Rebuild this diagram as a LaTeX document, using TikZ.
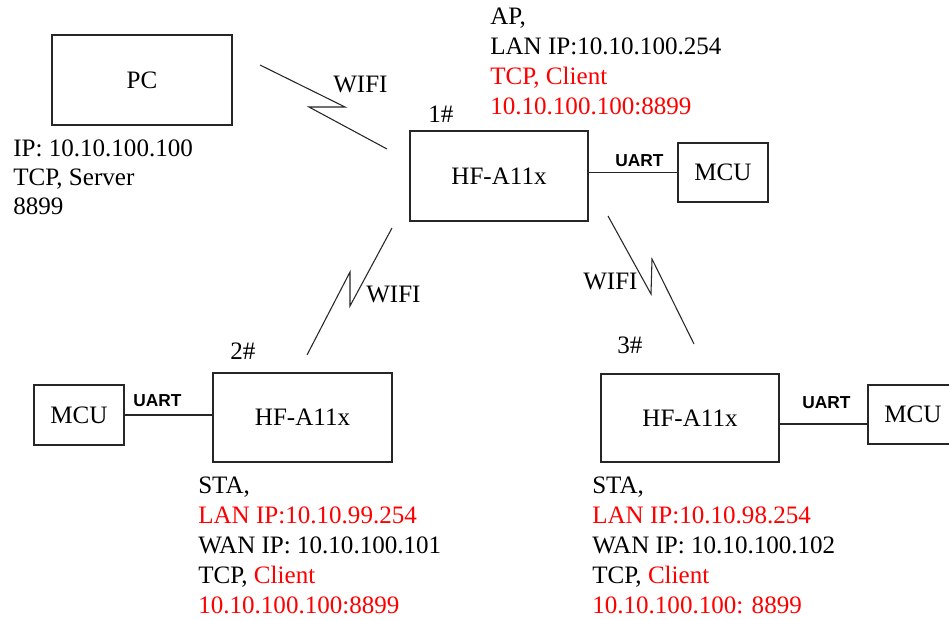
\documentclass[tikz,border=0pt]{standalone}
\usepackage{fontspec}
\setmainfont{Liberation Serif}
\newfontfamily\timesfont{Liberation Serif}
\newfontfamily\uartfont{Liberation Sans}
\begin{document}
\begin{tikzpicture}[x=0.75pt,y=-0.75pt,
  box/.style={draw=black!85, line width=0.9pt, inner sep=0pt, font=\timesfont\fontsize{18.8}{22}\selectfont},
  lbl/.style={anchor=base west, inner sep=0pt, font=\timesfont\fontsize{18.8}{22}\selectfont},
  uart/.style={anchor=base west, inner sep=0pt, font=\uartfont\bfseries\fontsize{13}{15}\selectfont},
  wire/.style={draw=black!85, line width=0.8pt},
  zig/.style={draw=black!85, line width=0.8pt}]
\path[use as bounding box, clip] (0,0) rectangle (949,620);
\fill[white] (0,0) rectangle (949,620);

% boxes
\node[box, minimum width=135pt, minimum height=67.5pt] (pc) at (142,80) {PC};
\node[box, minimum width=133.5pt, minimum height=67.5pt] (ap) at (499,176) {HF-A11x};
\node[box, minimum width=67.5pt, minimum height=44.25pt] (mcua) at (723,172.5) {MCU};
\node[box, minimum width=134.25pt, minimum height=66.75pt] (sta2) at (302.5,417.5) {HF-A11x};
\node[box, minimum width=67.5pt, minimum height=45pt] (mcub) at (79,415) {MCU};
\node[box, minimum width=133.5pt, minimum height=66pt] (sta3) at (690,418) {HF-A11x};
\node[box, minimum width=67.5pt, minimum height=44.25pt] (mcuc) at (913,414.5) {MCU};

% UART wires
\draw[wire] (mcua.west -| ap.east) -- (mcua.west);
\draw[wire] (mcub.east) -- (mcub.east -| sta2.west);
\draw[wire] (sta3.east) ++(0,6) coordinate (u3) -- (u3 -| mcuc.west);
\node[uart] (uarta) at (615,167) {UART};
\node[uart] (uartb) at (133,406) {UART};
\node[uart] (uartc) at (802,408) {UART};

% WIFI zigzags
\coordinate (z1a) at (260,65);
\coordinate (z1b) at (387,149);
\draw[zig] (z1a) -- (345,107) -- (309,107) -- (z1b);
\coordinate (z2a) at (392,228);
\coordinate (z2b) at (307,355);
\draw[zig] (z2a) -- (350,306) -- (350,272) -- (z2b);
\coordinate (z3a) at (608,216);
\coordinate (z3b) at (694,344);
\draw[zig] (z3a) -- (651,294) -- (652,259) -- (z3b);
\node[lbl] (w1) at (333,93) {WIFI};
\node[lbl] (w2) at (366,302) {WIFI};
\node[lbl] (w3) at (583,290) {WIFI};

% numbers
\node[lbl] (n1) at (428,123) {1\#};
\node[lbl] (n2) at (230,359) {2\#};
\node[lbl] (n3) at (617,353) {3\#};

% AP block
\node[lbl] (apa) at (490,25) {AP,};
\node[lbl] (apb) at (490,55) {LAN IP:10.10.100.254};
\node[lbl, text=red] (apc) at (490,85) {TCP, Client};
\node[lbl, text=red] (apd) at (490,115) {10.10.100.100:8899};

% PC block
\node[lbl] (pca) at (13,157) {IP: 10.10.100.100};
\node[lbl] (pcb) at (13,186) {TCP, Server};
\node[lbl] (pcc) at (13,215) {8899};

% STA 2 block
\node[lbl] (sa) at (198,493) {STA,};
\node[lbl, text=red] (sb) at (198,523) {LAN IP:10.10.99.254};
\node[lbl] (sc) at (198,553) {WAN IP: 10.10.100.101};
\node[lbl] (sd) at (198,583) {TCP, \textcolor{red}{Client}};
\node[lbl, text=red] (se) at (198,613) {10.10.100.100:8899};

% STA 3 block
\node[lbl] (ta) at (592,493) {STA,};
\node[lbl, text=red] (tb) at (592,523) {LAN IP:10.10.98.254};
\node[lbl] (tc) at (592,553) {WAN IP: 10.10.100.102};
\node[lbl] (td) at (592,583) {TCP, \textcolor{red}{Client}};
\node[lbl, text=red] (te) at (592,613) {10.10.100.100: 8899};
\end{tikzpicture}
\end{document}
